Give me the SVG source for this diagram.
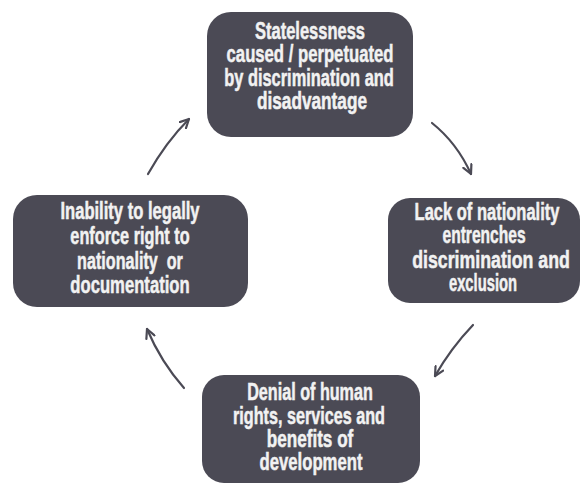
<svg xmlns="http://www.w3.org/2000/svg" width="581" height="484" viewBox="0 0 581 484">
<style>
.box{fill:#4b4a55;}
.t{font-family:"Liberation Sans",Arial,sans-serif;font-weight:bold;font-size:23px;fill:#f2f2f2;stroke:#f2f2f2;stroke-width:0.5;text-anchor:middle;}
.c{fill:none;stroke:#4b4a55;stroke-width:2.2;stroke-linecap:round;}
</style>
<defs>
<marker id="ah" viewBox="0 0 10 10" refX="9" refY="5" markerWidth="11" markerHeight="11" markerUnits="userSpaceOnUse" orient="auto">
<path d="M1,1 L9,5 L1,9" fill="none" stroke="#4b4a55" stroke-width="2" stroke-linecap="round" stroke-linejoin="round"/>
</marker>
</defs>
<rect width="581" height="484" fill="#ffffff"/>
<g id="node-top">
<rect class="box" x="207" y="12" width="206" height="125" rx="24"/>
<text class="t" transform="translate(310,39) scale(0.71,1)" textLength="155" lengthAdjust="spacingAndGlyphs">Statelessness</text>
<text class="t" transform="translate(310,62) scale(0.71,1)" textLength="235" lengthAdjust="spacingAndGlyphs">caused / perpetuated</text>
<text class="t" transform="translate(309,86) scale(0.71,1)" textLength="239" lengthAdjust="spacingAndGlyphs">by discrimination and</text>
<text class="t" transform="translate(312,109) scale(0.71,1)" textLength="155" lengthAdjust="spacingAndGlyphs">disadvantage</text>
</g>
<g id="node-right">
<rect class="box" x="388" y="198" width="192" height="105" rx="22"/>
<text class="t" transform="translate(487,220) scale(0.71,1)" textLength="204" lengthAdjust="spacingAndGlyphs">Lack of nationality</text>
<text class="t" transform="translate(484,243) scale(0.71,1)" textLength="117" lengthAdjust="spacingAndGlyphs">entrenches</text>
<text class="t" transform="translate(491,268) scale(0.71,1)" textLength="222" lengthAdjust="spacingAndGlyphs">discrimination and</text>
<text class="t" transform="translate(483,291) scale(0.71,1)" textLength="96" lengthAdjust="spacingAndGlyphs">exclusion</text>
</g>
<g id="node-bottom">
<rect class="box" x="202" y="375" width="218" height="108" rx="22"/>
<text class="t" transform="translate(310,400) scale(0.71,1)" textLength="177" lengthAdjust="spacingAndGlyphs">Denial of human</text>
<text class="t" transform="translate(309,424) scale(0.71,1)" textLength="214" lengthAdjust="spacingAndGlyphs">rights, services and</text>
<text class="t" transform="translate(310,447) scale(0.71,1)" textLength="122" lengthAdjust="spacingAndGlyphs">benefits of</text>
<text class="t" transform="translate(311,470) scale(0.71,1)" textLength="145" lengthAdjust="spacingAndGlyphs">development</text>
</g>
<g id="node-left">
<rect class="box" x="13" y="195" width="235" height="112" rx="24"/>
<text class="t" transform="translate(130,219) scale(0.71,1)" textLength="196" lengthAdjust="spacingAndGlyphs">Inability to legally</text>
<text class="t" transform="translate(130,244) scale(0.71,1)" textLength="168" lengthAdjust="spacingAndGlyphs">enforce right to</text>
<text class="t" transform="translate(130,269) scale(0.71,1)" textLength="149" lengthAdjust="spacingAndGlyphs" xml:space="preserve">nationality  or</text>
<text class="t" transform="translate(130,293) scale(0.71,1)" textLength="168" lengthAdjust="spacingAndGlyphs">documentation</text>
</g>
<g id="connectors">
<path class="c" d="M432,123 Q457,143 471,174" marker-end="url(#ah)"/>
<path class="c" d="M473,325 Q451,348 435,376" marker-end="url(#ah)"/>
<path class="c" d="M184,388 Q161,362 147,329" marker-end="url(#ah)"/>
<path class="c" d="M148,174 Q166,142 189,119" marker-end="url(#ah)"/>
</g>
</svg>
